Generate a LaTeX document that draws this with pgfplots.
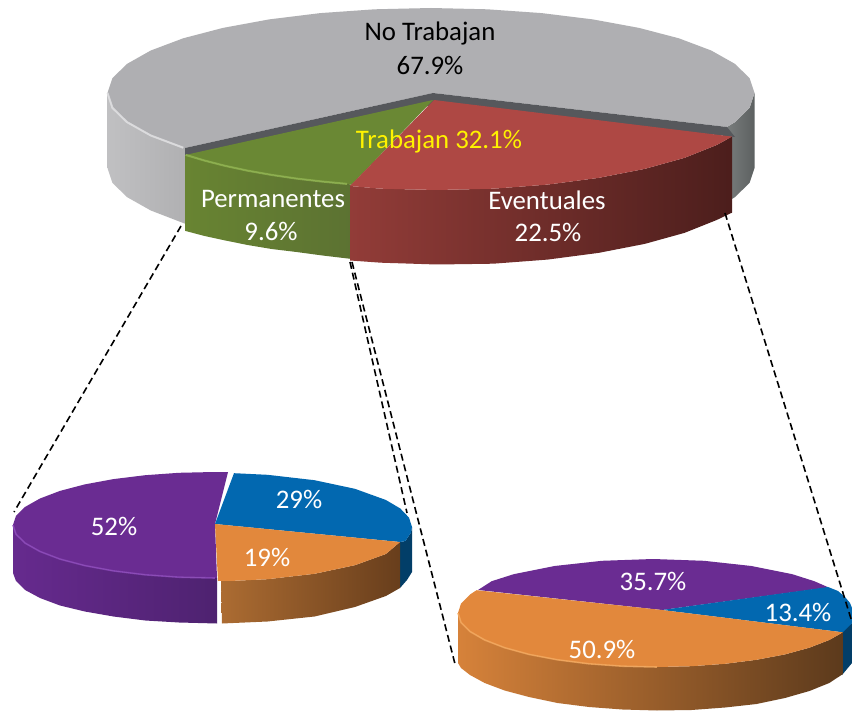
\documentclass[border=0pt]{standalone}
\usepackage{fontspec}
\setmainfont{Carlito}
\usepackage{pgfplots}
\pgfplotsset{compat=1.18}
\definecolor{gtop}{RGB}{175,175,178}
\definecolor{gwallL}{RGB}{192,192,194}
\definecolor{gwallR}{RGB}{176,176,178}
\definecolor{gdarkL}{RGB}{120,124,124}
\definecolor{gdarkR}{RGB}{92,96,96}
\definecolor{gstrip}{RGB}{86,88,92}
\definecolor{gtoprim}{RGB}{228,228,230}
\definecolor{grtop}{RGB}{106,136,52}
\definecolor{grrim}{RGB}{146,182,82}
\definecolor{grL}{RGB}{104,132,50}
\definecolor{grR}{RGB}{92,114,50}
\definecolor{rtop}{RGB}{174,72,68}
\definecolor{rL}{RGB}{146,60,56}
\definecolor{rM}{RGB}{112,46,44}
\definecolor{rR}{RGB}{76,30,28}
\definecolor{ptop}{RGB}{106,44,146}
\definecolor{pL}{RGB}{102,42,142}
\definecolor{pR}{RGB}{78,34,112}
\definecolor{prim}{RGB}{142,76,188}
\definecolor{btop}{RGB}{2,104,176}
\definecolor{bside}{RGB}{2,62,104}
\definecolor{otop}{RGB}{226,136,60}
\definecolor{orim}{RGB}{244,170,96}
\definecolor{oL}{RGB}{172,108,50}
\definecolor{oR}{RGB}{104,62,28}
\definecolor{oL2}{RGB}{214,130,58}
\definecolor{oM2}{RGB}{172,108,48}
\definecolor{oR2}{RGB}{92,58,28}
\begin{document}
\begin{tikzpicture}
\begin{axis}[hide axis,scale only axis,width=852pt,height=711pt,
  xmin=0,xmax=852,ymin=0,ymax=711,y dir=reverse,clip=true]
\addplot[draw=none,fill=white] coordinates {(0,0)(852,0)(852,711)(0,711)} --cycle;

% ---- big pie: grey
\addplot[draw=none,left color=gwallL,right color=gwallR] coordinates {(107.5,93)(112.4,107.8)(127,122.1)(150.8,135.5)(183.2,147.7)(186,148)(186,224)(183.2,223)(150.8,210.5)(127,197.1)(112.4,182.8)(107.5,168)} --cycle;
\addplot[draw=none,left color=gdarkL,right color=gdarkR] coordinates {(727,127)(735,122.1)(749.6,107.8)(754.5,93)(754.5,168)(749.6,182.8)(735,197.1)(727,202)} --cycle;
\addplot[draw=none,fill=gtop] coordinates {(727,127)(735,122.1)(749.6,107.8)(754.5,93)(749.6,78.2)(735,63.9)(711.2,50.5)(678.8,38.3)(639,27.9)(592.8,19.4)(541.6,13.1)(487.2,9.3)(431,8)(374.8,9.3)(320.4,13.1)(269.2,19.4)(223,27.9)(183.2,38.3)(150.8,50.5)(127,63.9)(112.4,78.2)(107.5,93)(112.4,107.8)(127,122.1)(150.8,135.5)(183.2,147.7)(185,148)(433,93)} --cycle;
\addplot[gtoprim,line width=2pt,opacity=.8] coordinates {(107.5,93)(112.4,107.8)(127,122.1)(150.8,135.5)(183.2,147.7)};
\addplot[draw=none,fill=gstrip] coordinates {(185,148)(433,93)(727,127)(735,137)(433,105)(185,160)} --cycle;

% ---- big pie: green
\addplot[draw=none,left color=grL,right color=grR] coordinates {(185.6,154.9)(204.6,160.6)(225.3,165.9)(247.7,170.7)(271.5,174.9)(296.5,178.6)(322.5,181.6)(352,184.5)(352,259)(322.5,255.5)(296.5,252)(271.5,249)(247.7,245)(225.3,240.5)(204.6,236)(185.6,231)} --cycle;
\addplot[draw=none,fill=grtop] coordinates {(433,100)(185.6,154.9)(204.6,160.6)(225.3,165.9)(247.7,170.7)(271.5,174.9)(296.5,178.6)(322.5,181.6)(352,184.5)} --cycle;
\addplot[grrim,line width=2pt,opacity=.8] coordinates {(185.6,154.9)(204.6,160.6)(225.3,165.9)(247.7,170.7)(271.5,174.9)(296.5,178.6)(322.5,181.6)(347,183.9)};

% ---- big pie: red
\addplot[draw=none,left color=rL,middle color=rM,right color=rR] coordinates {(732.1,136.6)(716.7,145)(684.4,157.9)(644.7,168.9)(598.5,177.9)(547.5,184.6)(493.2,188.7)(437,190)(380.8,188.7)(350,186)(350,260.5)(380.8,262.7)(437,264.5)(493.2,263.7)(547.5,259.6)(598.5,252.9)(644.7,243.9)(684.4,232.9)(716.7,220)(732.1,212.6)} --cycle;
\addplot[draw=none,fill=rtop] coordinates {(434,100)(732.1,136.6)(716.7,145)(684.4,157.9)(644.7,168.9)(598.5,177.9)(547.5,184.6)(493.2,188.7)(437,190)(380.8,188.7)(350,186)} --cycle;

% ---- left pie
\addplot[draw=none,left color=pL,right color=pR] coordinates {(13,525)(16,534.2)(25.1,543.1)(40,551.5)(60,559.1)(84.8,565.6)(113.5,570.9)(145.3,574.8)(179,577.2)(217,578)(217,623.5)(179,622.5)(145.3,620.5)(113.5,616.5)(84.8,611.5)(60,605.5)(40,598)(25.1,590)(16,581)(13,573)} --cycle;
\addplot[draw=none,fill=ptop] coordinates {(215,524)(228,472.2)(214,472)(179,472.8)(145.3,475.2)(113.5,479.1)(84.8,484.4)(60,490.9)(40,498.5)(25.1,506.9)(16,515.8)(13,525)(16,534.2)(25.1,543.1)(40,551.5)(60,559.1)(84.8,565.6)(113.5,570.9)(145.3,574.8)(179,577.2)(217,578)} --cycle;
\addplot[prim,line width=1.6pt,opacity=.8] coordinates {(13,525)(16,534.2)(25.1,543.1)(40,551.5)(60,559.1)(84.8,565.6)(113.5,570.9)(145.3,574.8)(179,577.2)(215,578)};
\addplot[draw=none,fill=bside] coordinates {(400,542)(405.4,541)(411,532.6)(412,527)(412,572)(407,580)(400,588)} --cycle;
\addplot[draw=none,fill=btop] coordinates {(215,524)(234,473.2)(267.5,474.8)(314.5,480.2)(354.9,488.8)(385.9,500)(400.3,508.5)(409,517.6)(412,527)(411,532.6)(405.4,541)(400,542)} --cycle;
\addplot[draw=none,left color=oL,right color=oR] coordinates {(400,542)(385.9,554)(354.9,565.2)(314.5,573.8)(267.5,579.2)(234,580.8)(221,581)(222,623.5)(267.5,621.5)(314.5,616.5)(354.9,607)(385.9,596)(400,588)} --cycle;
\addplot[draw=none,fill=otop] coordinates {(215,524)(400,542)(385.9,554)(354.9,565.2)(314.5,573.8)(267.5,579.2)(234,580.8)(218,581)} --cycle;

% ---- right pie
\addplot[draw=none,fill=ptop] coordinates {(662,610)(478,590)(491.7,581.2)(513.7,574.2)(554.5,566)(602,560.8)(653,559)(704,560.8)(751.5,566)(792.3,574.2)(814.3,581.2)(828.5,587.4)} --cycle;
\addplot[draw=none,fill=bside] coordinates {(842,631)(852,623)(852,663)(842,675)} --cycle;
\addplot[draw=none,fill=btop] coordinates {(662,610)(828,587)(838,591)(845,597)(850,603)(852,608)(852,623)(842.9,632.3)} --cycle;
\addplot[draw=none,left color=oL2,middle color=oM2,right color=oR2] coordinates {(842.9,632.3)(829.3,640)(809.4,647.7)(785,654.4)(756.5,659.8)(725,663.8)(691.6,666.2)(657,667)(622.4,666.2)(589,663.8)(557.5,659.8)(529,654.4)(504.6,647.7)(484.7,640)(470,631.5)(461,622.4)(458,613)(458,663)(461,668)(470,675)(484.7,683)(504.6,690.5)(529,697)(557.5,703)(589,707)(622.4,709.5)(657,710.5)(691.6,710)(725,707.5)(756.5,704)(785,698)(809.4,691)(829.3,683)(842.9,674)} --cycle;
\addplot[draw=none,fill=otop] coordinates {(662,610)(842.9,632.3)(829.3,640)(809.4,647.7)(785,654.4)(756.5,659.8)(725,663.8)(691.6,666.2)(657,667)(622.4,666.2)(589,663.8)(557.5,659.8)(529,654.4)(504.6,647.7)(484.7,640)(470,631.5)(461,622.4)(458,613)(461,603.6)(470,594.5)(476.6,590.2)} --cycle;
\addplot[orim,line width=1.6pt,opacity=.8] coordinates {(458,613)(461,622.4)(470,631.5)(484.7,640)(504.6,647.7)(529,654.4)(557.5,659.8)(589,663.8)(622.4,666.2)(657,667)};

% ---- dashed leader lines
\addplot[black,line width=1.6pt,dash pattern=on 7pt off 4pt] coordinates {(181,226)(14,512)};
\addplot[black,line width=1.6pt,dash pattern=on 7pt off 4pt] coordinates {(350,262)(407,513)};
\addplot[black,line width=1.6pt,dash pattern=on 7pt off 4pt] coordinates {(352,262)(455,664)};
\addplot[black,line width=1.6pt,dash pattern=on 7pt off 4pt] coordinates {(725,213)(852,622)};

% ---- labels
\def\lab{\fontsize{26.8}{30}\selectfont}
\node[black] at (axis cs:430,33) {\lab No Trabajan};
\node[black] at (axis cs:430,65) {\lab 67.9\%};
\node[yellow] at (axis cs:439,141) {\lab Trabajan 32.1\%};
\node[white] at (axis cs:273,199) {\lab Permanentes};
\node[white] at (axis cs:271,231) {\lab 9.6\%};
\node[white] at (axis cs:547,200) {\lab Eventuales};
\node[white] at (axis cs:548,232) {\lab 22.5\%};
\node[white] at (axis cs:114,526) {\lab 52\%};
\node[white] at (axis cs:299,499) {\lab 29\%};
\node[white] at (axis cs:267,557) {\lab 19\%};
\node[white] at (axis cs:653,581) {\lab 35.7\%};
\node[white] at (axis cs:798,612) {\lab 13.4\%};
\node[white] at (axis cs:602,649) {\lab 50.9\%};
\end{axis}
\end{tikzpicture}
\end{document}
